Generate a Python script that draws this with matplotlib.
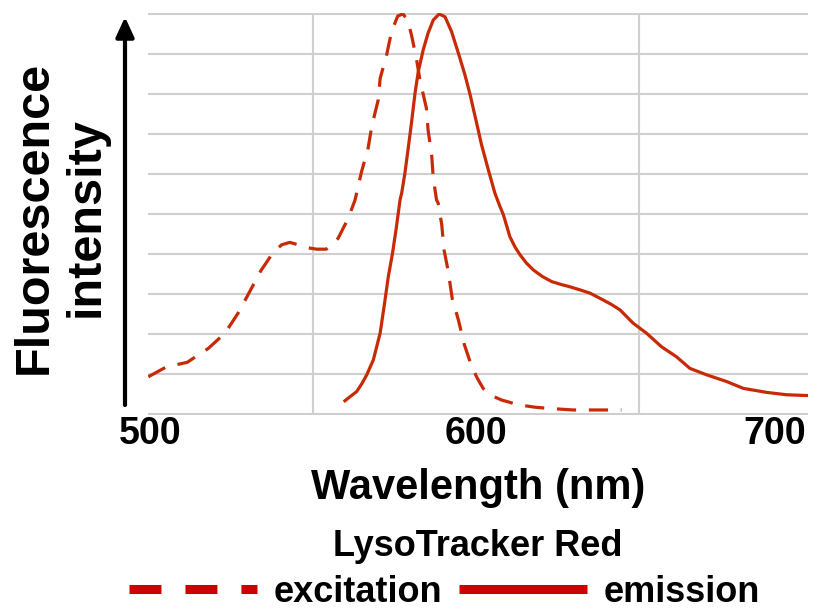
import numpy as np
import matplotlib
matplotlib.use("Agg")
import matplotlib.pyplot as plt
import matplotlib.transforms as mtransforms
from matplotlib.lines import Line2D
from matplotlib.patches import FancyArrowPatch

plt.rcParams['font.family'] = ['Liberation Sans', 'DejaVu Sans']
plt.rcParams['font.weight'] = 'bold'

# excitation spectrum (dashed)
ex_nm = [499.5, 505.1, 511.4, 517.9, 523.0, 527.1, 530.4, 534.0, 537.8, 540.4,
         542.9, 545.0, 548.0, 551.1, 554.1, 557.7, 560.8, 562.9, 564.9, 566.9,
         568.0, 570.0, 570.6, 572.6, 574.1, 576.0, 577.6, 579.0, 580.2, 581.8,
         582.8, 584.8, 585.3, 586.4, 586.9, 587.9, 588.4, 589.5, 590.2, 591.5,
         592.7, 594.6, 596.4, 598.7, 600.5, 602.2, 604.5, 607.8, 613.0, 618.0,
         622.2, 629.8, 644.6]
ex_int = [0.93, 1.18, 1.29, 1.64, 2.02, 2.53, 3.03, 3.58, 4.04, 4.23,
          4.29, 4.24, 4.16, 4.12, 4.12, 4.39, 4.89, 5.35, 6.06, 6.64,
          7.18, 7.85, 8.39, 8.98, 9.56, 9.95, 10.0, 9.85, 9.48, 8.85,
          8.35, 7.64, 7.10, 6.48, 5.89, 5.35, 5.27, 4.73, 4.10, 3.56,
          2.89, 2.35, 1.74, 1.18, 0.88, 0.64, 0.47, 0.35, 0.23, 0.17,
          0.14, 0.10, 0.10]

# emission spectrum (solid)
em_nm = [559.8, 561.5, 563.4, 565.0, 566.5, 568.5, 570.6, 572.1, 573.1, 574.4,
         575.6, 576.7, 577.2, 578.2, 579.2, 580.2, 581.3, 582.3, 583.8, 585.3,
         586.9, 588.7, 590.5, 592.5, 594.6, 596.6, 598.2, 600.2, 601.7, 603.8,
         605.8, 607.2, 608.4, 610.4, 612.0, 613.5, 615.5, 617.6, 620.3, 623.2,
         626.0, 628.8, 632.0, 635.0, 639.0, 641.5, 644.2, 648.2, 652.3, 656.9,
         661.5, 665.6, 670.7, 676.9, 682.0, 689.1, 695.3, 701.9]
em_int = [0.33, 0.44, 0.56, 0.76, 0.98, 1.35, 2.02, 2.85, 3.43, 4.02,
          4.68, 5.35, 5.52, 6.02, 6.64, 7.27, 8.02, 8.56, 9.10, 9.52,
          9.85, 10.0, 9.93, 9.56, 9.02, 8.48, 7.98, 7.27, 6.73, 6.10,
          5.52, 5.22, 4.98, 4.43, 4.17, 3.98, 3.77, 3.60, 3.44, 3.31,
          3.24, 3.18, 3.10, 3.02, 2.85, 2.74, 2.60, 2.27, 2.02, 1.68,
          1.43, 1.14, 0.98, 0.81, 0.64, 0.54, 0.48, 0.46]

x_ticks = [500, 600, 700]
x_grid = [500, 550, 600, 650, 700]
y_grid = list(range(11))

curve_col = '#c82a05'
legend_col = '#cc0000'

fig = plt.figure(figsize=(8.3, 6.09), dpi=100)
ax = fig.add_axes([0.1783, 0.3186, 0.7952, 0.6601])

ax.plot(ex_nm, ex_int, color=curve_col, lw=2.3, linestyle=(0, (6, 4)))
ax.plot(em_nm, em_int, color=curve_col, lw=2.3)

ax.set_xlim(499.39, 701.84)
ax.set_ylim(-0.025, 10.025)
ax.set_xticks(x_grid, minor=True)
ax.set_yticks(y_grid)
ax.grid(True, which='minor', axis='x', color='#cfcfcf', lw=1.5)
ax.grid(True, which='major', axis='y', color='#cfcfcf', lw=1.5)
ax.set_axisbelow(True)
ax.set_xticks(x_ticks)
ax.set_xticklabels([str(t) for t in x_ticks], fontsize=27, fontweight='bold')
ax.tick_params(axis='x', which='both', length=0, pad=1)
ax.tick_params(axis='y', length=0, labelleft=False)
for s in ax.spines.values():
    s.set_visible(False)

# last tick label sits inside the figure edge
last = ax.get_xticklabels()[-1]
last.set_horizontalalignment('right')
last.set_transform(last.get_transform() +
                   mtransforms.ScaledTranslation(4 / 100, 0, fig.dpi_scale_trans))

# y axis arrow
arrow = FancyArrowPatch((125 / 830, 1 - 405 / 609), (125 / 830, 1 - 17 / 609),
                        transform=fig.transFigure, arrowstyle='-|>,head_length=1.2,head_width=0.55',
                        mutation_scale=10, color='black', lw=3, shrinkA=0, shrinkB=0)
fig.patches.append(arrow)

fig.text(60 / 830, 1 - 217 / 609, 'Fluorescence\nintensity', rotation=90,
         ha='center', va='center', multialignment='center', fontsize=35, fontweight='bold')

fig.text(478 / 830, 1 - 499 / 609, 'Wavelength (nm)', ha='center', va='baseline',
         fontsize=30, fontweight='bold')
fig.text(477.5 / 830, 1 - 556 / 609, 'LysoTracker Red', ha='center', va='baseline',
         fontsize=26, fontweight='bold')

handles = [Line2D([], [], color=legend_col, lw=6.5, linestyle=(0, (3.54, 2.66)),
                  dash_capstyle='butt'),
           Line2D([], [], color=legend_col, lw=6.5, solid_capstyle='butt')]
fig.legend(handles, ['excitation', 'emission'], loc='center',
           bbox_to_anchor=(444.5 / 830, 1 - 592 / 609), ncol=2, frameon=False,
           handlelength=3.54, handletextpad=0.47, columnspacing=0.45,
           borderpad=0, borderaxespad=0,
           prop={'size': 26, 'weight': 'bold'})

fig.savefig('out.png', dpi=100)
